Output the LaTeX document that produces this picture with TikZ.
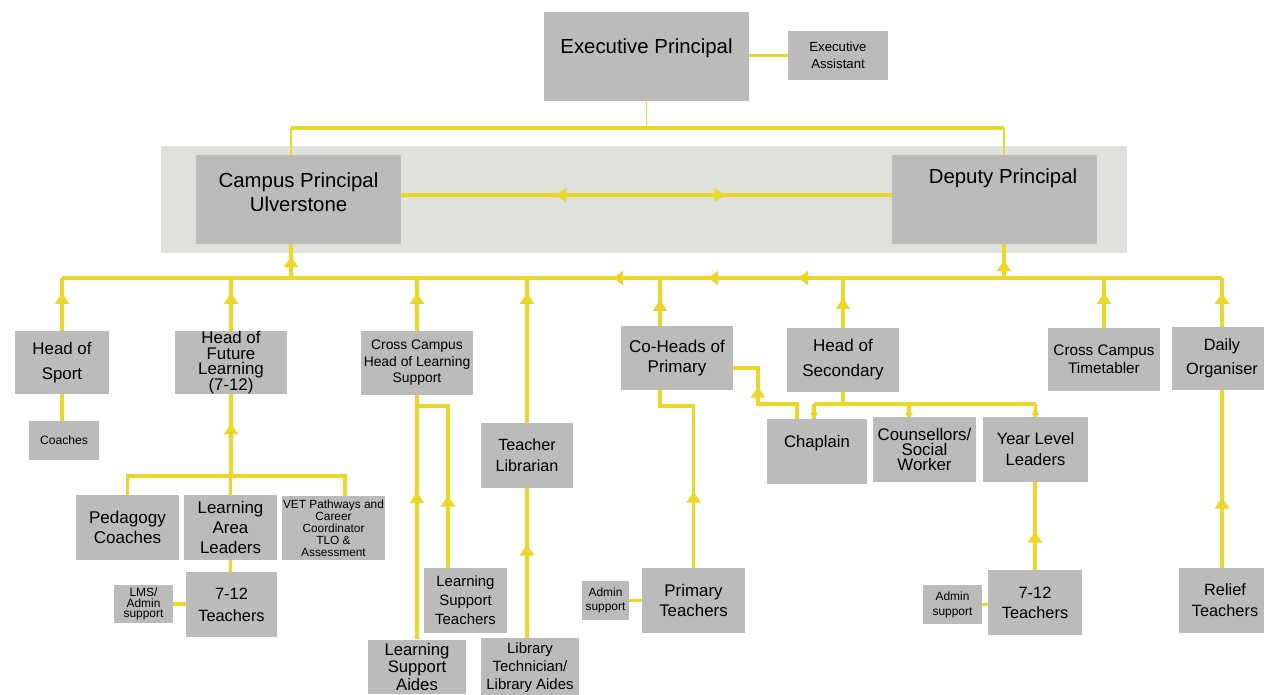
\documentclass[tikz,border=0pt]{standalone}
\usepackage{fontspec}
\setmainfont{Liberation Sans}
\usetikzlibrary{arrows.meta,decorations.markings}

\definecolor{boxgray}{RGB}{187,187,187}
\definecolor{bandgray}{RGB}{224,224,220}
\definecolor{linkyellow}{RGB}{234,215,40}

\tikzset{
  box/.style={fill=boxgray, align=center, inner sep=0pt},
  sz/.style 2 args={minimum width=#1cm, minimum height=#2cm},
  fs/.style 2 args={font={\fontsize{#1}{#2}\selectfont\lineskiplimit=-10pt}},
  link/.style={draw=linkyellow, line width=1.9pt},
  uparrow/.style={postaction={decorate}, decoration={markings, mark=at position #1 with {\arrow{Triangle[width=0.28cm,length=0.22cm]}}}},
  smallarrow/.style={postaction={decorate}, decoration={markings, mark=at position #1 with {\arrow{Triangle[width=0.14cm,length=0.17cm]}}}},
}

\begin{document}
\begin{tikzpicture}[x=0.02cm, y=-0.02cm]
        \useasboundingbox (0,0) rectangle (1264,695);
        \clip (0,0) rectangle (1264,695);

        % Grey band behind the two principals
        \fill[bandgray] (161,146) rectangle (1127,253);

        % Top level
        \node[box, sz={4.1}{1.78}] (exec) at (646.5,56.5) {};
        \node[fs={11.6}{13.6}] (exectext) at ([yshift=0.17cm]exec.center) {Executive Principal};
        \node[box, sz={2.0}{0.98}, fs={7.5}{9.6}] (ea) at (838,55.5) {Executive\\Assistant};

        \node[box, sz={4.1}{1.78}] (camp) at (298.5,199.5) {};
        \node[fs={11.6}{13.6}, align=center] (camptext) at ([yshift=0.15cm]camp.center) {Campus Principal\\Ulverstone};
        \node[box, sz={4.1}{1.78}] (dep) at (994.5,199.5) {};
        \node[fs={11.6}{13.6}] (deptext) at ([xshift=0.17cm, yshift=0.43cm]dep.center) {Deputy Principal};

        % Heads on the bus
        \node[box, sz={1.88}{1.26}, fs={9.6}{14.2}] (sport) at (62,362.5) {Head of\\Sport};
        \node[box, sz={1.4}{0.78}, fs={6.9}{8.5}] (coaches) at (64,440.5) {Coaches};
        \node[box, sz={2.24}{1.26}, fs={9.6}{8.8}] (hfl) at (231,362.5) {Head of\\Future\\Learning\\(7-12)};
        \node[box, sz={2.24}{1.28}, fs={7.9}{9.4}] (cchls) at (417,363) {Cross Campus\\Head of Learning\\Support};
        \node[box, sz={1.84}{1.3}, fs={9.2}{11.9}] (tl) at (527,455.5) {Teacher\\Librarian};
        \node[box, sz={2.24}{1.28}, fs={9.7}{11.3}] (chp) at (677,358) {Co-Heads of\\Primary};
        \node[box, sz={2.24}{1.28}, fs={9.7}{14.2}] (hos) at (843,360) {Head of\\Secondary};
        \node[box, sz={2.24}{1.26}, fs={8.7}{10.2}] (cct) at (1104,359.5) {Cross Campus\\Timetabler};
        \node[box, sz={2.0}{1.26}, fs={9.3}{13.6}] (dorg) at (1222,358.5) {Daily\\Organiser};

        % Future learning group
        \node[box, sz={2.06}{1.3}, fs={9.7}{11.3}] (ped) at (127.5,527.5) {Pedagogy\\Coaches};
        \node[box, sz={1.86}{1.3}, fs={9.6}{11.3}] (lal) at (230.5,527.5) {Learning\\Area\\Leaders};
        \node[box, sz={2.06}{1.28}, fs={6.75}{6.8}] (vet) at (333.5,528) {VET Pathways and\\Career\\Coordinator\\TLO \&\\Assessment};
        \node[box, sz={1.82}{1.3}, fs={9.3}{12.5}] (t712l) at (231.5,604.5) {7-12\\Teachers};
        \node[box, sz={1.18}{0.76}, fs={6.8}{6.2}] (lms) at (143.5,604) {LMS/\\Admin\\support};

        % Learning support and library
        \node[box, sz={1.66}{1.3}, fs={8.5}{10.8}] (lst) at (465.5,600.5) {Learning\\Support\\Teachers};
        \node[box, sz={1.96}{1.1}, fs={9.5}{10.2}] (lsa) at (417,667) {Learning\\Support\\Aides};
        \node[box, sz={1.96}{1.2}, fs={8.5}{10.3}] (lt) at (530,668) {Library\\Technician/\\Library Aides};

        % Primary
        \node[box, sz={2.06}{1.3}, fs={9.6}{11.3}] (pt) at (693.5,600.5) {Primary\\Teachers};
        \node[box, sz={0.94}{0.78}, fs={6.8}{8.2}] (adminp) at (605.5,600.5) {Admin\\support};

        % Secondary
        \node[box, sz={2.0}{1.3}] (chap) at (817,451.5) {};
        \node[fs={9.5}{11.3}] (chaptext) at ([yshift=0.17cm]chap.center) {Chaplain};
        \node[box, sz={2.06}{1.3}, fs={9.6}{8.8}] (couns) at (924.5,449.5) {Counsellors/\\Social\\Worker};
        \node[box, sz={2.1}{1.3}, fs={9.4}{11.9}] (yll) at (1035.5,449.5) {Year Level\\Leaders};
        \node[box, sz={1.88}{1.3}, fs={9.3}{11.3}] (t712r) at (1035,602.5) {7-12\\Teachers};
        \node[box, sz={1.18}{0.78}, fs={6.8}{8.5}] (admins) at (952.5,604.5) {Admin\\support};
        \node[box, sz={1.84}{1.3}, fs={9.3}{11.9}] (relief) at (1225,600.5) {Relief\\Teachers};

        % Helper coordinates
        \coordinate (top) at (0,128);
        \coordinate (bus) at (0,278);
        \coordinate (hflj) at (231,476);
        \coordinate (lsbr) at (0,406);
        \coordinate (prbr) at (0,406);
        \coordinate (hosbr) at (0,404);
        \coordinate (chk) at (758,404);

        % Executive links
        \draw[link] (exec.east |- ea.west) -- (ea.west);
        \draw[link, line width=1.1pt] (exec.south) -- (exec.south |- top);
        \draw[link, line width=2.2pt] ([xshift=-0.15cm]camp.north |- top) -- ([xshift=0.19cm]dep.north |- top);
        \draw[link, line width=1.1pt] ([xshift=-0.15cm]camp.north |- top) -- ([xshift=-0.15cm]camp.north);
        \draw[link, line width=1.1pt] ([xshift=0.19cm]dep.north |- top) -- ([xshift=0.19cm]dep.north);
        \draw[link, postaction={decorate}, decoration={markings,
            mark=at position 3.1cm with {\arrowreversed{Triangle[width=0.28cm,length=0.2cm]}},
            mark=at position 6.46cm with {\arrow{Triangle[width=0.28cm,length=0.2cm]}}}]
            ([yshift=0.09cm]camp.east) -- ([yshift=0.09cm]dep.west);

        % Bus under the principals
        \draw[link, postaction={decorate}, decoration={markings,
            mark=at position 8.48cm with {\arrow{Triangle[width=0.27cm,length=0.2cm]}},
            mark=at position 10.28cm with {\arrow{Triangle[width=0.27cm,length=0.2cm]}},
            mark=at position 12.18cm with {\arrow{Triangle[width=0.27cm,length=0.2cm]}}}]
            (dorg.north |- bus) -- (sport.north |- bus);
        \draw[link, uparrow=-0.24cm] ([xshift=-0.15cm]camp.south |- bus) -- ([xshift=-0.15cm]camp.south);
        \draw[link, uparrow=-0.32cm] ([xshift=0.19cm]dep.south |- bus) -- ([xshift=0.19cm]dep.south);

        % Heads up to the bus
        \foreach \n/\d in {sport/-0.3cm, hfl/-0.3cm, cchls/-0.3cm, tl/-0.3cm, hos/-0.4cm, cct/-0.3cm, dorg/-0.3cm} {
            \draw[link, uparrow=\d] (\n.north) -- (\n.north |- bus);
        }
        \draw[link, uparrow=-0.44cm] ([xshift=-0.34cm]chp.north) -- ([xshift=-0.34cm]chp.north |- bus);

        % Sport and future learning
        \draw[link] (sport.south) -- (sport.south |- coaches.north);
        \draw[link, uparrow=-0.58cm] (hflj) -- (hfl.south |- hflj) -- (hfl.south);
        \draw[link] (ped.north) |- ([xshift=0.23cm]vet.north |- hflj) -- ([xshift=0.23cm]vet.north);
        \draw[link] (lal.north) -- (lal.north |- hflj);
        \draw[link] (lal.south) -- (lal.south |- t712l.north);
        \draw[link] (lms.east) -- (lms.east -| t712l.west);

        % Learning support and library
        \draw[link, uparrow=2.94cm] (lsa.north) -- (cchls.south);
        \draw[link, uparrow=1.44cm] ([xshift=-0.35cm]lst.north) |- (cchls.south |- lsbr);
        \draw[link, uparrow=1.86cm] (tl.south |- lt.north) -- (tl.south);

        % Primary
        \draw[link, uparrow=1.52cm] (pt.north) |- ([xshift=-0.34cm]chp.south |- prbr) -- ([xshift=-0.34cm]chp.south);
        \draw[link] (adminp.east) -- (adminp.east -| pt.west);
        \draw[link, uparrow=1.42cm] ([xshift=-0.4cm]chap.north) |- (chk) |- ([yshift=-0.2cm]chp.east);

        % Secondary
        \draw[link] (hos.south) -- (hos.south |- hosbr);
        \draw[link] ([xshift=-0.06cm]chap.north |- hosbr) -- (yll.north |- hosbr);
        \foreach \n/\s in {chap/-0.06cm, couns/-0.31cm, yll/0cm} {
            \draw[link, smallarrow=-0.06cm] ([xshift=\s]\n.north) -- ([xshift=\s]\n.north |- hosbr);
        }
        \draw[link, uparrow=0.76cm] (t712r.north) -- (t712r.north |- yll.south);
        \draw[link] (admins.east) -- (admins.east -| t712r.west);
        \draw[link, uparrow=1.4cm] (dorg.south |- relief.north) -- (dorg.south);
\end{tikzpicture}
\end{document}
